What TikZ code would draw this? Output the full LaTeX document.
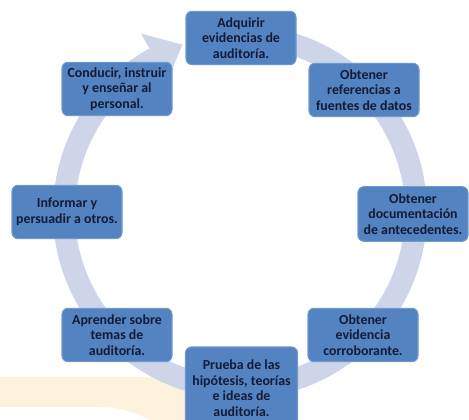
\documentclass[tikz,border=0pt]{standalone}
\usepackage{fontspec}
\setmainfont{Carlito}
\usetikzlibrary{calc}
\definecolor{boxfill}{RGB}{84,131,193}
\definecolor{boxline}{RGB}{110,152,206}
\definecolor{boxtext}{RGB}{18,28,55}
\definecolor{ringcol}{RGB}{206,213,232}
\definecolor{cream}{RGB}{252,242,221}
\begin{document}
\begin{tikzpicture}[x=0.75pt,y=0.75pt,
  stagebox/.style={draw=boxline,line width=0.8pt,fill=boxfill,rounded corners=4.5pt,
    minimum width=82.5pt,minimum height=40pt,inner sep=0.5pt,align=center,
    text=boxtext,font=\bfseries\fontsize{10.4}{11.6}\selectfont},
  ring/.style={draw=ringcol,line width=16.5pt}]
\useasboundingbox (0,0) rectangle (469,420);
% cream decorative band
\fill[cream] (0,43) -- (186,43) -- (186,0) -- (150,0)
  .. controls (132,9) and (118,13) .. (100,13) -- (0,13) -- cycle;
% circular arrow
\coordinate (cc) at (240,208);
\draw[ring] ($(cc)+(78:176)$) arc[start angle=78,end angle=-241,radius=176];
\fill[ringcol] ($(cc)+(-241:150)$) -- ($(cc)+(-241:204)$) -- ($(cc)+(-251:177)$) -- cycle;
% boxes
\node[stagebox] (n1) at (241,382) {Adquirir\\evidencias de\\auditoría.};
\node[stagebox] (n2) at (364,330) {Obtener\\referencias a\\fuentes de datos};
\node[stagebox,minimum height=41pt] (n3) at (413,206) {Obtener\\documentación\\de antecedentes.};
\node[stagebox] (n4) at (363,85) {Obtener\\evidencia\\corroborante.};
\node[stagebox,minimum height=61.5pt,minimum width=84pt] (n5) at (241.5,32) {Prueba de las\\hipótesis, teorías\\e ideas de\\auditoría.};
\node[stagebox] (n6) at (117,85) {Aprender sobre\\temas de\\auditoría.};
\node[stagebox,minimum height=40pt] (n7) at (67,208) {Informar y\\persuadir a otros.};
\node[stagebox] (n8) at (117,331) {Conducir, instruir\\y enseñar al\\personal.};
\end{tikzpicture}
\end{document}
